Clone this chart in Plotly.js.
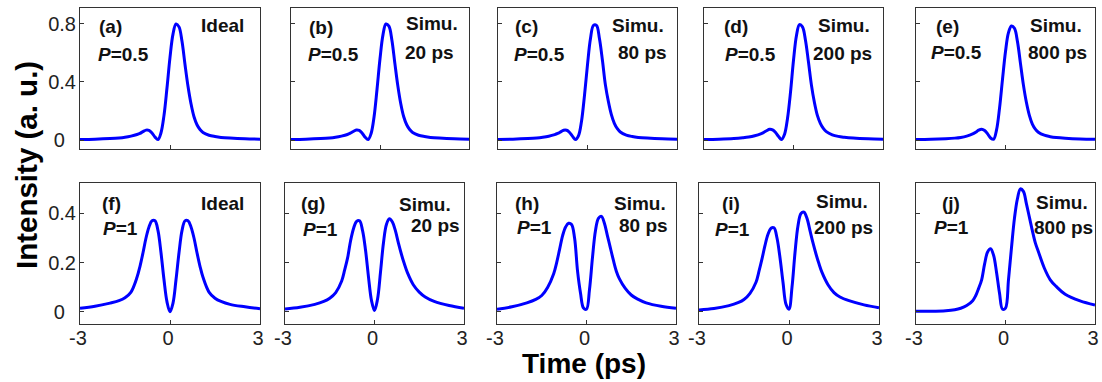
<!DOCTYPE html>
<html><head><meta charset="utf-8">
<script src="https://cdn.plot.ly/plotly-3.0.1.min.js"></script>
<style>html,body{margin:0;padding:0;background:#fff}#chart{width:1102px;height:382px}</style>
</head><body><div id="chart"></div>
<script>
// ---- data ----
const timePs = [-3, -2.5, -2, -1.7, -1.5, -1.3, -1.1, -1.0, -0.9, -0.8, -0.7, -0.6, -0.5, -0.4, -0.3, -0.2, -0.1, 0, 0.1, 0.2, 0.3, 0.4, 0.5, 0.6, 0.7, 0.8, 0.9, 1.0, 1.1, 1.3, 1.5, 1.7, 2.0, 2.5, 3];

const idealP05   = [0.004,0.006,0.010,0.014,0.019,0.027,0.038,0.046,0.058,0.068,0.066,0.048,0.020,0.003,0.050,0.170,0.360,0.570,0.730,0.800,0.780,0.680,0.520,0.370,0.250,0.160,0.105,0.072,0.052,0.033,0.024,0.018,0.013,0.008,0.006];
const simu20P05  = [0.004,0.006,0.010,0.014,0.019,0.027,0.038,0.047,0.059,0.069,0.066,0.047,0.019,0.003,0.045,0.160,0.350,0.560,0.725,0.800,0.785,0.690,0.530,0.375,0.250,0.160,0.105,0.072,0.052,0.033,0.024,0.018,0.013,0.008,0.006];
const simu80P05  = [0.004,0.006,0.010,0.014,0.019,0.026,0.037,0.045,0.056,0.067,0.067,0.052,0.025,0.003,0.030,0.130,0.310,0.520,0.700,0.790,0.790,0.700,0.550,0.380,0.265,0.175,0.115,0.078,0.055,0.034,0.024,0.018,0.013,0.008,0.006];
const simu200P05 = [0.004,0.006,0.010,0.015,0.020,0.029,0.042,0.052,0.064,0.074,0.070,0.052,0.024,0.004,0.040,0.150,0.330,0.550,0.720,0.795,0.780,0.690,0.540,0.380,0.260,0.170,0.115,0.080,0.058,0.036,0.025,0.019,0.013,0.008,0.006];
const simu800P05 = [0.003,0.005,0.009,0.013,0.018,0.027,0.042,0.053,0.068,0.075,0.066,0.042,0.014,0.005,0.070,0.220,0.420,0.610,0.740,0.786,0.770,0.680,0.530,0.380,0.260,0.170,0.110,0.075,0.054,0.033,0.023,0.017,0.012,0.007,0.005];

const idealP1   = [0.014,0.022,0.035,0.045,0.057,0.080,0.140,0.185,0.240,0.300,0.345,0.370,0.370,0.330,0.240,0.130,0.040,0.000,0.035,0.130,0.240,0.330,0.370,0.370,0.345,0.300,0.240,0.185,0.140,0.080,0.055,0.042,0.030,0.020,0.012];
const simu20P1  = [0.011,0.018,0.030,0.042,0.055,0.078,0.125,0.170,0.220,0.290,0.340,0.368,0.370,0.330,0.250,0.140,0.045,0.005,0.050,0.160,0.280,0.355,0.378,0.365,0.330,0.280,0.235,0.195,0.160,0.110,0.080,0.060,0.042,0.025,0.014];
const simu80P1  = [0.010,0.020,0.036,0.050,0.066,0.100,0.155,0.200,0.255,0.310,0.345,0.360,0.355,0.300,0.165,0.075,0.015,0.010,0.090,0.220,0.330,0.380,0.388,0.360,0.310,0.260,0.210,0.165,0.135,0.095,0.068,0.052,0.036,0.022,0.014];
const simu200P1 = [0.007,0.013,0.025,0.037,0.050,0.075,0.120,0.165,0.215,0.270,0.315,0.340,0.342,0.300,0.220,0.120,0.030,0.010,0.100,0.240,0.350,0.400,0.405,0.380,0.330,0.280,0.235,0.195,0.160,0.110,0.078,0.060,0.045,0.028,0.016];
const simu800P1 = [0.002,0.002,0.004,0.008,0.014,0.025,0.045,0.065,0.095,0.130,0.195,0.243,0.256,0.230,0.160,0.075,0.010,0.015,0.130,0.260,0.380,0.460,0.500,0.490,0.440,0.385,0.330,0.280,0.245,0.178,0.130,0.103,0.071,0.044,0.027];

const panelTags   = ['(a)','(b)','(c)','(d)','(e)','(f)','(g)','(h)','(i)','(j)'];
const powerTags   = ['<i>P</i>=0.5','<i>P</i>=0.5','<i>P</i>=0.5','<i>P</i>=0.5','<i>P</i>=0.5','<i>P</i>=1','<i>P</i>=1','<i>P</i>=1','<i>P</i>=1','<i>P</i>=1'];
const modeTags    = ['Ideal','Simu.','Simu.','Simu.','Simu.','Ideal','Simu.','Simu.','Simu.','Simu.'];
const distTags    = ['','20 ps','80 ps','200 ps','800 ps','','20 ps','80 ps','200 ps','800 ps'];
const xTickVals   = [-3, 0, 3];
const xTickText   = ['-3', '0', '3'];
const yTickValsTop = [0, 0.4, 0.8];
const yTickTextTop = ['0\u00a0\u00a0', '0.4', '0.8'];
const yTickValsBot = [0, 0.2, 0.4];
const yTickTextBot = ['0\u00a0\u00a0', '0.2', '0.4'];
const xTitle = 'Time (ps)';
const yTitle = 'Intensity (a. u.)';

const series = [idealP05, simu20P05, simu80P05, simu200P05, simu800P05,
                idealP1, simu20P1, simu80P1, simu200P1, simu800P1];

// ---- layout geometry (pixels) ----
const W = 1102, H = 382;
const px = x => x / W, py = y => 1 - y / H;
const xDom = [[80,260],[291,469],[498,677],[704,883],[916,1095],
              [80,260],[285,464],[497,676],[699,879],[916,1095]];
const yDomTop = [8,149], yDomBot = [183,324];
const FONT = 'Liberation Sans, Arial, Helvetica, sans-serif';
const FRAME = '#333';

// label positions (centres in px): [tag, power, mode, dist]
const labPos = [
  [[110.5,27],[123.5,54.5],[222,25.5],null],
  [[320.5,27.5],[333.5,54.5],[431.5,23.5],[429.5,52.5]],
  [[526.5,27],[539.5,54.5],[638.3,25.5],[642.5,52.5]],
  [[735.5,27],[750,54.5],[844,25.5],[842.7,53.5]],
  [[947.5,27],[956.2,52.5],[1055.8,25.5],[1057.7,52.5]],
  [[111.7,203],[120.3,228.3],[222,203],null],
  [[313,203],[320.7,229.2],[424.5,204.2],[435.5,225]],
  [[526.7,203.5],[534.2,227.5],[640.3,203.3],[643,225.8]],
  [[731.2,203],[732.8,229.2],[841.7,201.7],[843,227.5]],
  [[951.2,203],[951.7,227.5],[1062.2,202.5],[1063.3,227.5]]
];

const traces = [];
const layout = {
  width: W, height: H,
  margin: {l:0, r:0, t:0, b:0},
  paper_bgcolor: '#fff', plot_bgcolor: '#fff',
  showlegend: false,
  font: {family: FONT, color: '#000'},
  annotations: []
};

for (let i = 0; i < 10; i++) {
  const top = i < 5;
  const n = i + 1;
  const xa = 'xaxis' + (n === 1 ? '' : n), ya = 'yaxis' + (n === 1 ? '' : n);
  const xr = 'x' + (n === 1 ? '' : n), yr = 'y' + (n === 1 ? '' : n);
  traces.push({
    x: timePs, y: series[i], xaxis: xr, yaxis: yr,
    type: 'scatter', mode: 'lines',
    line: {color: '#0000ff', width: 3, shape: 'spline', smoothing: 1},
    hoverinfo: 'skip'
  });
  const yd = top ? yDomTop : yDomBot;
  layout[xa] = {
    domain: [px(xDom[i][0]), px(xDom[i][1])], anchor: yr,
    range: [-3, 3], tickmode: 'array', tickvals: xTickVals, ticktext: xTickText,
    showticklabels: !top, ticks: 'inside', ticklen: 4, tickcolor: FRAME, tickwidth: 1,
    ticklabelstandoff: -4, ticklabelshift: -2,
    showline: true, linecolor: FRAME, linewidth: 1, mirror: true,
    showgrid: false, zeroline: false,
    tickfont: {family: FONT, size: 20, color: '#222'}
  };
  layout[ya] = {
    domain: [py(yd[1]), py(yd[0])], anchor: xr,
    range: top ? [-0.062, 0.91] : [-0.05, 0.524],
    tickmode: 'array',
    tickvals: top ? yTickValsTop : yTickValsBot,
    ticktext: top ? yTickTextTop : yTickTextBot,
    showticklabels: (i === 0 || i === 5), ticks: 'inside', ticklen: 4, tickcolor: FRAME, tickwidth: 1,
    ticklabelstandoff: -1,
    showline: true, linecolor: FRAME, linewidth: 1, mirror: true,
    showgrid: false, zeroline: false,
    tickfont: {family: FONT, size: 20, color: '#222'}
  };
  const texts = [panelTags[i], powerTags[i], modeTags[i], distTags[i]];
  for (let k = 0; k < 4; k++) {
    const p = labPos[i][k];
    if (!p || !texts[k]) continue;
    layout.annotations.push({
      xref: 'paper', yref: 'paper', x: px(p[0]), y: py(p[1]),
      xanchor: 'center', yanchor: 'middle', showarrow: false,
      text: '<b>' + texts[k] + '</b>',
      font: {family: FONT, size: 19, color: '#111'}
    });
  }
}

layout.annotations.push({
  xref: 'paper', yref: 'paper', x: px(584), y: py(363),
  xanchor: 'center', yanchor: 'middle', showarrow: false,
  text: '<b>' + xTitle + '</b>', font: {family: FONT, size: 28, color: '#000'}
});
layout.annotations.push({
  xref: 'paper', yref: 'paper', x: px(26), y: py(165),
  xanchor: 'center', yanchor: 'middle', showarrow: false, textangle: -90,
  text: '<b>' + yTitle + '</b>', font: {family: FONT, size: 29.5, color: '#000'}
});

Plotly.newPlot('chart', traces, layout, {staticPlot: true, displayModeBar: false});
</script>
</body></html>
